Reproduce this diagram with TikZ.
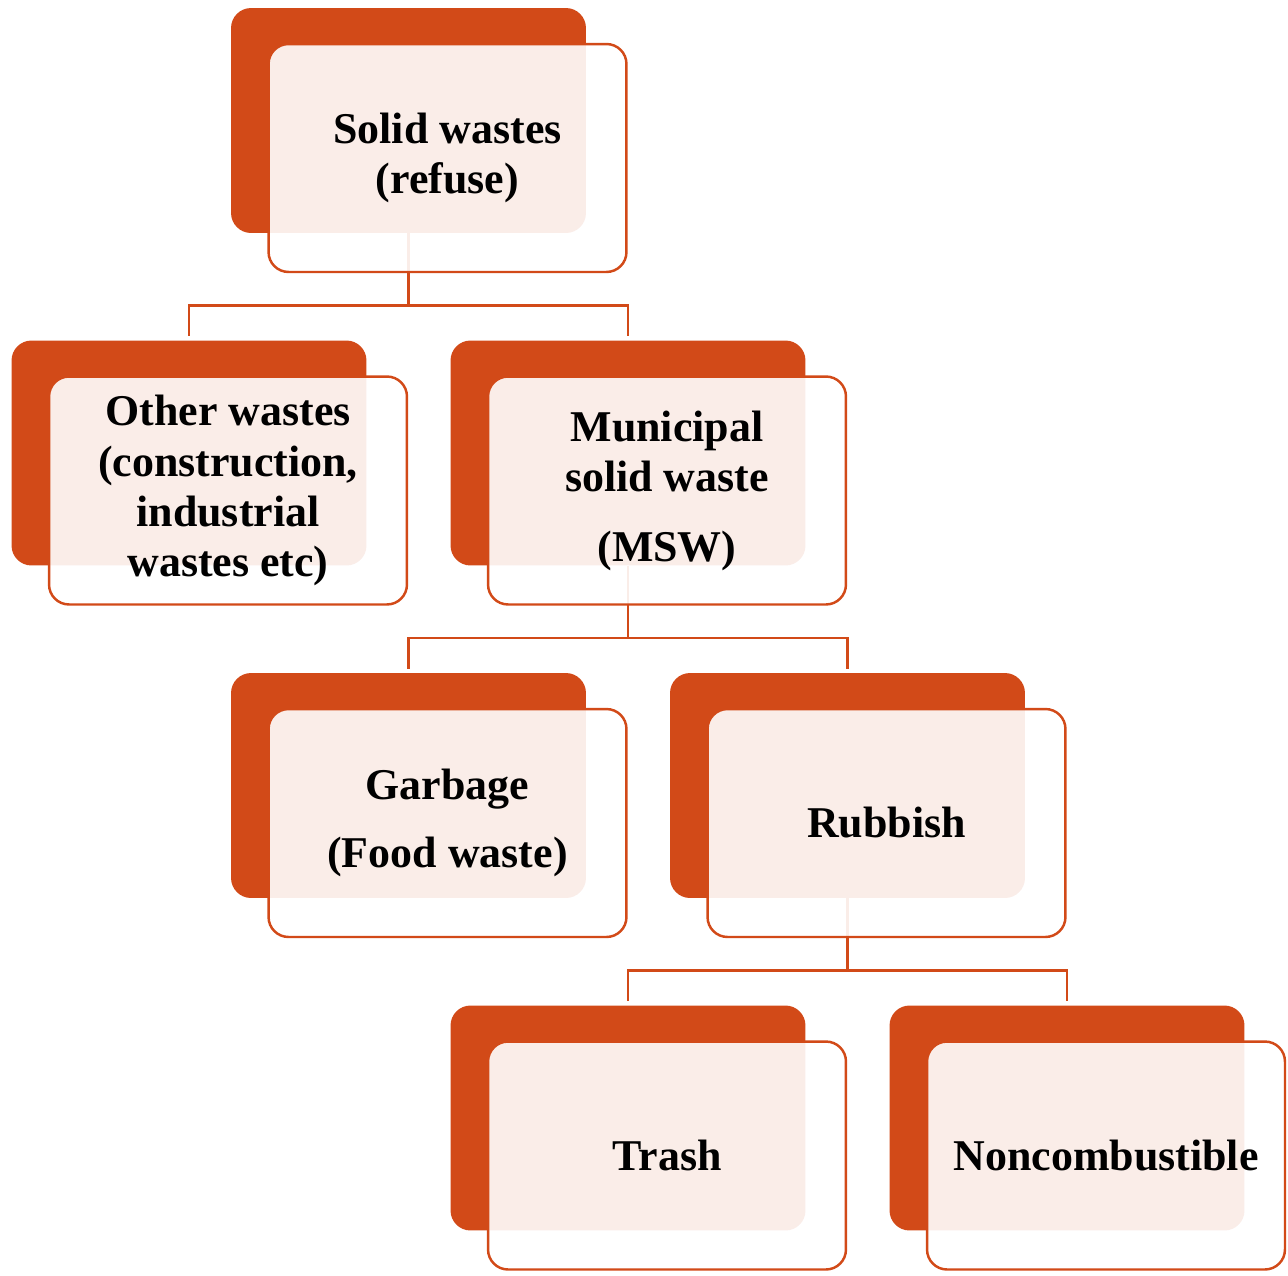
\documentclass[tikz,border=0pt]{standalone}
\usepackage{fontspec}
\setmainfont{Liberation Serif}
\usetikzlibrary{
    calc,       % For shifting the front cards
    positioning % For relative placement
}
\definecolor{rust}{HTML}{D24A18}

\begin{document}
\begin{tikzpicture}[
    x=0.02cm, y=-0.02cm, % one unit = one pixel of the layout
    back/.style={fill=rust, rounded corners=0.4cm,
        minimum width=7.1cm, minimum height=4.5cm}, % solid card behind
    front/.style={draw=rust, line width=1.4pt, fill=white, fill opacity=0.9,
        text opacity=1, rounded corners=0.4cm,
        minimum width=7.16cm, minimum height=4.56cm, align=center,
        font=\bfseries\fontsize{25}{28.5}\selectfont}, % pale card in front
    link/.style={draw=rust, line width=1.4pt, shorten >=0.08cm}
]
    \useasboundingbox (0,0) rectangle (1288,1275);

    % Back cards
    \node[back] (sb) at (408.5,120.5) {};
    \node[back] (ob) at (189,453) {};
    \node[back] (mb) at (628,453) {};
    \node[back] (gb) at (408.5,785.5) {};
    \node[back] (rb) at (847.5,785.5) {};
    \node[back] (tb) at (628,1118) {};
    \node[back] (nb) at (1067,1118) {};

    % Tree connectors
    \coordinate (j1) at ($(sb.south)+(0,72)$);
    \draw[link] (sb.south) -- (j1) -| (ob.north);
    \draw[link] (j1) -| (mb.north);

    \coordinate (j2) at ($(mb.south)+(0,72)$);
    \draw[link] (mb.south) -- (j2) -| (gb.north);
    \draw[link] (j2) -| (rb.north);

    \coordinate (j3) at ($(rb.south)+(0,72)$);
    \draw[link] (rb.south) -- (j3) -| (tb.north);
    \draw[link] (j3) -| (nb.north);

    % Front cards with the labels
    \node[front] (solid) at ($(sb)+(39,37.5)$) {Solid wastes\\(refuse)};
    \node[front] (other) at ($(ob)+(39,37.5)$) {Other wastes\\(construction,\\industrial\\wastes etc)};
    \node[front] (msw) at ($(mb)+(39,37.5)$) {Municipal\\solid waste\\[0.4cm](MSW)};
    \node[front] (garbage) at ($(gb)+(39,37.5)$) {Garbage\\[0.36cm](Food waste)};
    \node[front] (rubbish) at ($(rb)+(39,37.5)$) {Rubbish};
    \node[front] (trash) at ($(tb)+(39,37.5)$) {Trash};
    \node[front] (noncomb) at ($(nb)+(39,37.5)$) {Noncombustible};

\end{tikzpicture}
\end{document}
